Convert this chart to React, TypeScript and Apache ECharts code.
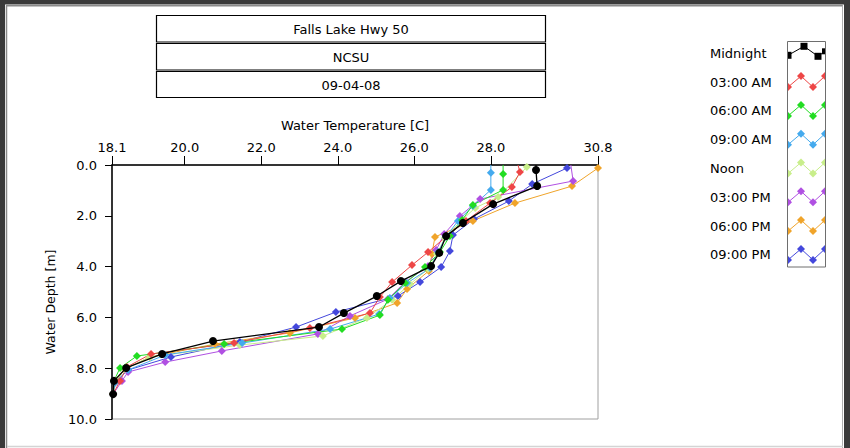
import React, { useEffect, useRef } from "react";
import * as echarts from "echarts";

// ---------- data ----------
const titleLines = ["Falls Lake Hwy 50", "NCSU", "09-04-08"];
const seriesNames = ["Midnight", "03:00 AM", "06:00 AM", "09:00 AM", "Noon", "03:00 PM", "06:00 PM", "09:00 PM"];
const xTickValues = [18.1, 20.0, 22.0, 24.0, 26.0, 28.0, 30.8];

// temperature [C] and depth [m] per time of day
const midnightTemp = [29.18, 29.18, 29.21, 28.06, 27.27, 26.83, 26.65, 26.44, 25.65, 25.02, 24.16, 23.51, 20.74, 19.41, 18.47, 18.15, 18.13];
const midnightDepth = [0, 0.2, 0.83, 1.54, 2.28, 2.8, 3.46, 3.98, 4.57, 5.16, 5.83, 6.38, 6.93, 7.44, 7.99, 8.5, 9.02];

const am3Temp = [28.71, 28.76, 28.55, 27.98, 27.35, 26.85, 26.36, 25.94, 25.42, 25.10, 24.84, 23.27, 21.29, 19.12, 18.49, 18.31, 18.13];
const am3Depth = [0, 0.28, 0.87, 1.5, 2.2, 2.8, 3.43, 3.94, 4.61, 5.2, 5.83, 6.42, 7.01, 7.44, 7.95, 8.5, 9.02];

const am6Temp = [28.32, 28.32, 28.32, 27.53, 27.25, 26.93, 26.67, 26.28, 25.76, 25.31, 25.10, 24.11, 21.03, 18.75, 18.31, 18.15, 18.13];
const am6Depth = [0, 0.35, 0.98, 1.57, 2.17, 2.8, 3.43, 4.02, 4.65, 5.31, 5.91, 6.46, 7.05, 7.52, 7.99, 8.5, 9.02];

const am9Temp = [28.0, 28.0, 28.0, 27.53, 27.14, 26.83, 26.62, 26.41, 25.81, 25.36, 25.08, 23.80, 21.50, 19.49, 18.52, 18.18, 18.13];
const am9Depth = [0, 0.31, 0.98, 1.61, 2.2, 2.83, 3.43, 4.06, 4.65, 5.24, 5.87, 6.46, 7.01, 7.48, 8.07, 8.54, 9.02];

const noonTemp = [28.94, 28.19, 27.59, 27.19, 26.80, 26.59, 26.36, 25.89, 25.42, 24.76, 23.61, 21.44, 19.09, 18.44, 18.20, 18.13];
const noonDepth = [0.08, 1.26, 1.69, 2.24, 2.87, 3.5, 4.09, 4.69, 5.31, 6.02, 6.73, 7.09, 7.56, 8.03, 8.5, 9.02];

const pm3Temp = [30.09, 30.15, 27.72, 27.19, 26.78, 26.57, 26.36, 25.76, 25.31, 24.32, 23.48, 20.97, 19.49, 18.52, 18.36, 18.13];
const pm3Depth = [0, 0.63, 1.34, 2.01, 2.72, 3.35, 3.98, 4.61, 5.28, 5.94, 6.65, 7.32, 7.76, 8.15, 8.5, 9.02];

const pm6Temp = [30.80, 30.12, 28.63, 27.53, 26.54, 26.46, 26.38, 25.81, 25.55, 24.45, 22.75, 20.79, 19.09, 18.44, 18.20, 18.13];
const pm6Depth = [0.12, 0.83, 1.5, 2.2, 2.83, 3.5, 4.17, 4.88, 5.43, 6.02, 6.61, 7.05, 7.56, 8.03, 8.5, 9.02];

const pm9Temp = [29.99, 29.08, 28.47, 27.56, 27.01, 26.93, 26.70, 26.15, 25.57, 23.95, 22.91, 21.44, 19.64, 18.52, 18.20, 18.13];
const pm9Depth = [0.12, 0.75, 1.42, 2.13, 2.76, 3.39, 4.02, 4.61, 5.16, 5.79, 6.38, 6.97, 7.56, 8.07, 8.54, 9.02];

const allTemps = [midnightTemp, am3Temp, am6Temp, am9Temp, noonTemp, pm3Temp, pm6Temp, pm9Temp];
const allDepths = [midnightDepth, am3Depth, am6Depth, am9Depth, noonDepth, pm3Depth, pm6Depth, pm9Depth];

// ---------- style ----------
const COLORS = ["#000000", "#ee4646", "#22dd22", "#44aaee", "#c8ee8a", "#b050e2", "#f0a42a", "#4448dc"];
const FONT = "DejaVu Sans";

export default function App() {
  const ref = useRef<HTMLDivElement>(null);

  useEffect(() => {
    if (!ref.current) return;
    const chart = echarts.init(ref.current, undefined, { renderer: "svg" });

    const series: any[] = seriesNames.map((name, i) => ({
      type: "line",
      name,
      data: allDepths[i].map((d, k) =>
        d === 0
          ? { value: [allTemps[i][k], d], symbol: "none" }
          : { value: [allTemps[i][k], d] }
      ),
      symbol: i === 0 ? "circle" : "diamond",
      symbolSize: 8,
      showAllSymbol: true,
      clip: false,
      lineStyle: { color: COLORS[i], width: i === 0 ? 1.3 : 1 },
      itemStyle: { color: COLORS[i] },
      z: i === 0 ? 5 : 3,
    }));
    // draw midnight last (on top)
    const ordered = series.slice(1).reverse().concat([series[0]]);

    const graphic: any[] = [];
    // window frame
    graphic.push(
      { type: "rect", shape: { x: 0, y: 0, width: 850, height: 4.5 }, style: { fill: "#3a3a3a" }, z: 10 },
      { type: "rect", shape: { x: 0, y: 0, width: 5, height: 448 }, style: { fill: "#3a3a3a" }, z: 10 },
      { type: "rect", shape: { x: 844, y: 0, width: 6, height: 448 }, style: { fill: "#3a3a3a" }, z: 10 },
      { type: "line", shape: { x1: 6.5, y1: 5.5, x2: 6.5, y2: 448 }, style: { stroke: "#8a8a8a", lineWidth: 1.5 }, z: 10 },
      { type: "line", shape: { x1: 6, y1: 5.8, x2: 843, y2: 5.8 }, style: { stroke: "#8a8a8a", lineWidth: 1.5 }, z: 10 },
      { type: "line", shape: { x1: 842.5, y1: 5.5, x2: 842.5, y2: 448 }, style: { stroke: "#b0b0b0", lineWidth: 1 }, z: 10 },
      { type: "line", shape: { x1: 7, y1: 446.5, x2: 843, y2: 446.5 }, style: { stroke: "#d4d4d4", lineWidth: 1.5 }, z: 10 }
    );

    // title boxes
    const boxY = [15.5, 43.5, 71.5];
    const boxH = [26.5, 26.5, 26];
    titleLines.forEach((t, i) => {
      graphic.push({
        type: "rect",
        shape: { x: 156.5, y: boxY[i], width: 389, height: boxH[i] },
        style: { fill: "#fff", stroke: "#000", lineWidth: 1.2 },
        z: 10,
      });
      graphic.push({
        type: "text",
        style: {
          text: t, x: 351, y: boxY[i] + boxH[i] / 2 + 0.5,
          fill: "#000", fontSize: 13, fontFamily: FONT,
          align: "center", verticalAlign: "middle",
        },
        z: 11,
      });
    });

    // legend
    const legendTop = 53.3;
    const legendStep = 28.8;
    seriesNames.forEach((name, i) => {
      const c = legendTop + legendStep * i;
      graphic.push({
        type: "text",
        style: { text: name, x: 710, y: c, fill: "#000", fontSize: 13, fontFamily: FONT, align: "left", verticalAlign: "middle" },
        z: 11,
      });
      const pts = i === 0
        ? [[788, c + 2], [804, c - 7], [818, c + 3], [825, c - 2]]
        : [[788, c + 5], [801, c - 6], [813, c + 5], [825, c - 6]];
      graphic.push({ type: "polyline", shape: { points: pts }, style: { stroke: COLORS[i], lineWidth: 1, fill: null }, z: 11 });
      pts.forEach((p, k) => {
        const [x, y] = p;
        if (i === 0) {
          if (k === 0) graphic.push({ type: "rect", shape: { x: x, y: y - 3.5, width: 3.5, height: 7 }, style: { fill: COLORS[i] }, z: 12 });
          else if (k === 3) graphic.push({ type: "rect", shape: { x: x - 3, y: y - 3, width: 3, height: 6 }, style: { fill: COLORS[i] }, z: 12 });
          else graphic.push({ type: "rect", shape: { x: x - 3.5, y: y - 3.5, width: 7, height: 7 }, style: { fill: COLORS[i] }, z: 12 });
        } else {
          let poly: number[][];
          if (k === 0) poly = [[x, y - 4], [x + 4, y], [x, y + 4]];
          else if (k === 3) poly = [[x, y - 4], [x, y + 4], [x - 4, y]];
          else poly = [[x, y - 4], [x + 4, y], [x, y + 4], [x - 4, y]];
          graphic.push({ type: "polygon", shape: { points: poly }, style: { fill: COLORS[i] }, z: 12 });
        }
      });
    });
    graphic.push({
      type: "rect",
      shape: { x: 787.5, y: 41.5, width: 38, height: 225.5 },
      style: { fill: null, stroke: "#6e6e6e", lineWidth: 1 },
      z: 13,
    });

    chart.setOption({
      animation: false,
      backgroundColor: "#ffffff",
      textStyle: { fontFamily: FONT },
      grid: {
        left: 112, top: 165, width: 486, height: 254,
        show: true, borderColor: "#a0a0a0", borderWidth: 1, backgroundColor: "#ffffff",
        containLabel: false,
      },
      xAxis: {
        type: "value",
        position: "top",
        min: 18.1,
        max: 30.8,
        name: "Water Temperature [C]",
        nameLocation: "middle",
        nameGap: 33,
        nameTextStyle: { fontSize: 13, color: "#000", fontFamily: FONT },
        axisLine: { show: true, onZero: false, lineStyle: { color: "#000", width: 1.5 } },
        axisTick: { show: true, length: 9, customValues: xTickValues, lineStyle: { color: "#000", width: 1 } },
        axisLabel: {
          customValues: xTickValues,
          formatter: (v: number) => v.toFixed(1),
          margin: 11,
          fontSize: 13,
          color: "#000",
          fontFamily: FONT,
        },
        splitLine: { show: false },
      },
      yAxis: {
        type: "value",
        inverse: true,
        min: 0,
        max: 10,
        interval: 2,
        name: "Water Depth [m]",
        nameLocation: "middle",
        nameGap: 49,
        nameTextStyle: { fontSize: 12.5, color: "#000", fontFamily: FONT, padding: [0, 20, 0, 0] },
        axisLine: { show: true, onZero: false, lineStyle: { color: "#000", width: 1.5 } },
        axisTick: { show: true, length: 7, lineStyle: { color: "#000", width: 1 } },
        axisLabel: {
          formatter: (v: number) => v.toFixed(1),
          margin: 15,
          fontSize: 13,
          color: "#000",
          fontFamily: FONT,
        },
        splitLine: { show: false },
      },
      graphic,
      series: ordered,
    });

    return () => chart.dispose();
  }, []);

  return (
    <div
      ref={ref}
      style={{ position: "absolute", left: 0, top: 0, width: 850, height: 448, background: "#fff" }}
    />
  );
}
